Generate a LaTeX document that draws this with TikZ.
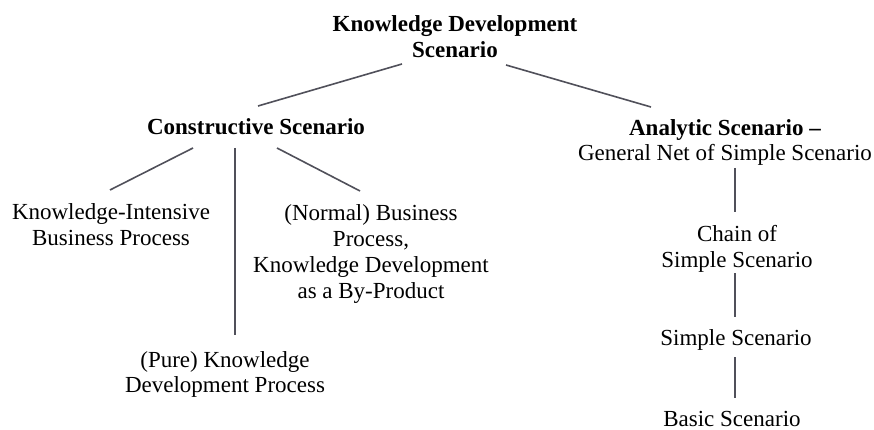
\documentclass[tikz,border=0pt]{standalone}
\usepackage{fontspec}
\setmainfont{Liberation Serif}
\begin{document}
\begin{tikzpicture}[x=1pt,y=-1pt,
  every node/.style={inner sep=0pt, outer sep=0pt, anchor=base, align=center,
    font=\fontsize{23}{25.8}\selectfont},
  head/.style={font=\fontsize{23}{26}\selectfont\bfseries},
  link/.style={draw={rgb,255:red,80;green,80;blue,90}, line width=1.6pt}]
\useasboundingbox[fill=white] (0,0) rectangle (874,430);

% tree nodes (placed by the baseline of their last line)
\node[head] (top) at (455,58) {Knowledge Development\\Scenario};
\node[head] (cons) at (256,135) {Constructive Scenario};
\node (ana) at (725,161) {\textbf{Analytic Scenario –}\\General Net of Simple Scenario};
\node (ki) at (111,245) {Knowledge-Intensive\\Business Process};
\node (norm) at (371,298) {(Normal) Business\\Process,\\Knowledge Development\\as a By-Product};
\node[font=\fontsize{23}{24.5}\selectfont] (pure) at (225,392) {(Pure) Knowledge\\Development Process};
\node (chain) at (737,267) {Chain of\\Simple Scenario};
\node (simple) at (736,345) {Simple Scenario};
\node (basic) at (732,426) {Basic Scenario};

% connectors
\draw[link] ([shift={(-53,6)}]top.base) -- ([shift={(2,-29)}]cons.base);
\draw[link] ([shift={(51,7)}]top.base) -- ([shift={(-74,-54)}]ana.base);
\draw[link] ([shift={(-63,13)}]cons.base) -- ([shift={(-1,-55)}]ki.base);
\draw[link] ([shift={(-21,13)}]cons.base) -- ([shift={(10,-57)}]pure.base);
\draw[link] ([shift={(21,13)}]cons.base) -- ([shift={(-11,-107)}]norm.base);
\draw[link] ([shift={(10,7)}]ana.base) -- ([shift={(-2,-55)}]chain.base);
\draw[link] ([shift={(-2,6)}]chain.base) -- ([shift={(-1,-28)}]simple.base);
\draw[link] ([shift={(-1,12)}]simple.base) -- ([shift={(3,-28)}]basic.base);
\end{tikzpicture}
\end{document}
